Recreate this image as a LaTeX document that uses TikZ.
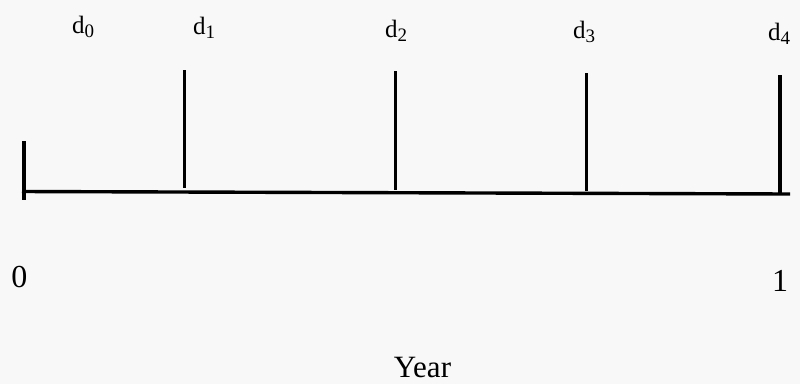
\documentclass[tikz,border=0pt]{standalone}
\usepackage{fontspec}
\setmainfont{Liberation Serif}
\newcommand{\dlab}[1]{d\raisebox{-4pt}{\fontsize{19}{20}\selectfont #1}}
\begin{document}
\begin{tikzpicture}[x=1pt,y=-1pt,
  axisline/.style={line width=3.4pt},
  tickline/.style={line width=3.2pt},
  dtext/.style={anchor=base west,inner sep=0pt,font=\fontsize{25}{28}\selectfont},
  numtext/.style={anchor=base,inner sep=0pt,font=\fontsize{32}{36}\selectfont},
  yeartext/.style={anchor=base,inner sep=0pt,font=\fontsize{31}{34}\selectfont}]
\fill[fill={rgb,255:red,248;green,248;blue,248}] (0,0) rectangle (800,384);
\useasboundingbox (0,0) rectangle (800,384);
% axis
\coordinate (a0) at (22,191.5);
\coordinate (a1) at (790,194);
\draw[axisline] (a0) -- (a1);
% ticks
\coordinate (t0top) at (24,141);
\coordinate (t0bot) at (24,200);
\coordinate (t1top) at (184.5,70);
\coordinate (t1bot) at (184.5,188);
\coordinate (t2top) at (395.5,71);
\coordinate (t2bot) at (395.5,189.5);
\coordinate (t3top) at (586.5,73);
\coordinate (t3bot) at (586.5,191);
\coordinate (t4top) at (780,75);
\coordinate (t4bot) at (780,193);
\draw[tickline] (t0top) -- (t0bot);
\draw[tickline] (t1top) -- (t1bot);
\draw[tickline] (t2top) -- (t2bot);
\draw[tickline] (t3top) -- (t3bot);
\draw[tickline] (t4top) -- (t4bot);
% labels
\node[dtext] (d0) at (72,33.5) {\dlab{0}};
\node[dtext] (d1) at (193,34.5) {\dlab{1}};
\node[dtext] (d2) at (385,37) {\dlab{2}};
\node[dtext] (d3) at (573,38) {\dlab{3}};
\node[dtext] (d4) at (768,40.5) {\dlab{4}};
\node[numtext] (zero) at (19.5,287) {0};
\node[numtext] (one) at (780,291) {1};
\node[yeartext] (year) at (422.5,377) {Year};
\end{tikzpicture}
\end{document}
